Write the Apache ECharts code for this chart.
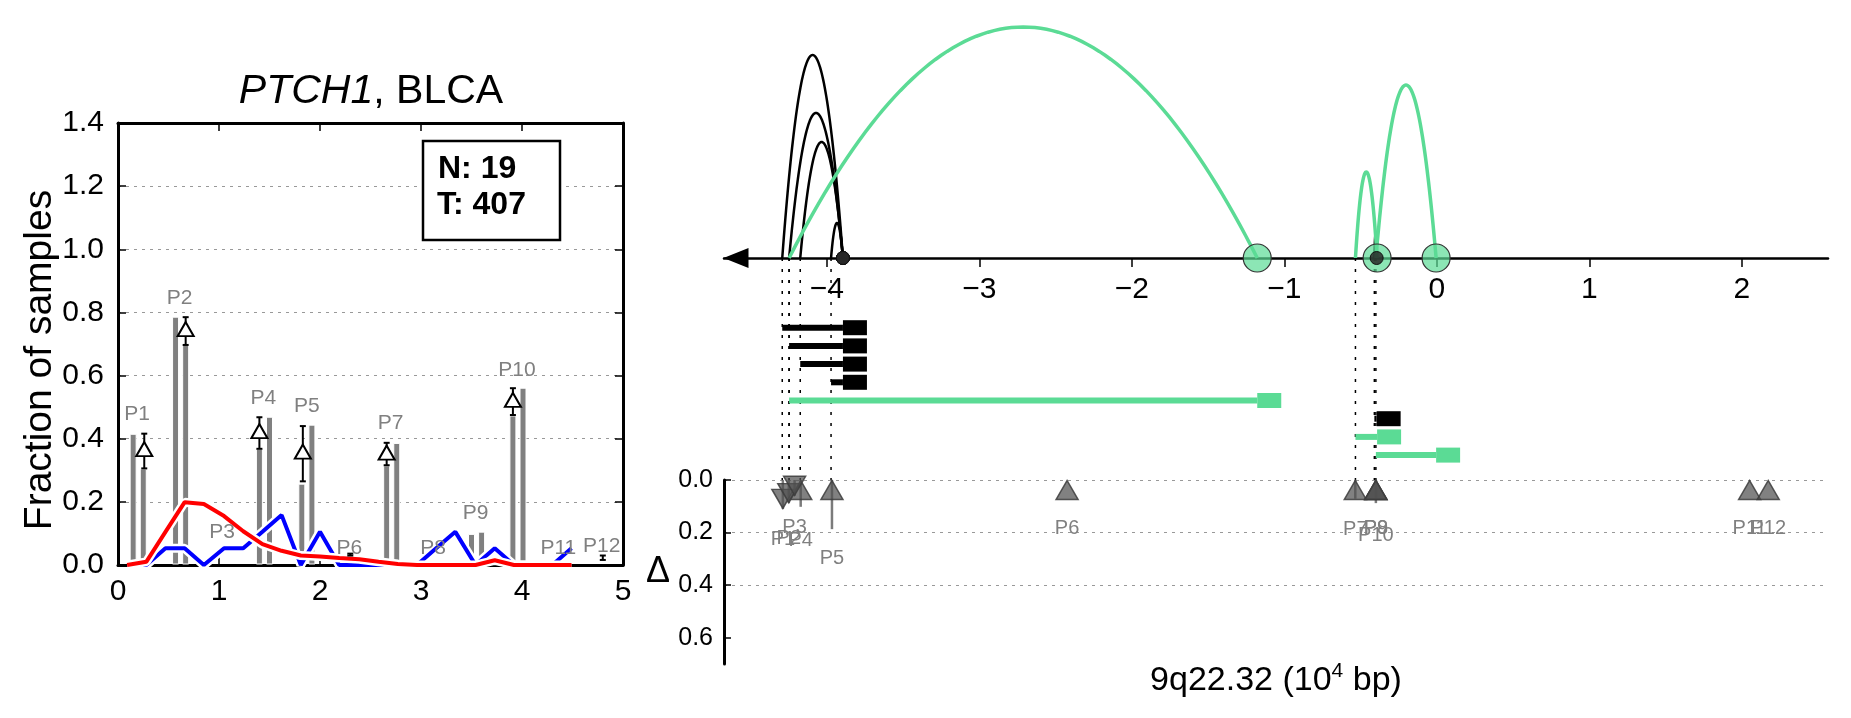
<!DOCTYPE html>
<html><head><meta charset="utf-8">
<script src="https://cdn.jsdelivr.net/npm/echarts@6/dist/echarts.min.js"></script>
<style>html,body{margin:0;padding:0;background:#fff}#c{width:1851px;height:718px}</style>
</head><body><div id="c"></div>
<script>
// ---------- Left panel data ----------
const peakNames = ['P1','P2','P3','P4','P5','P6','P7','P8','P9','P10','P11','P12'];
const barX1 = [0.15,0.57,0.99,1.40,1.82,2.24,2.66,3.08,3.50,3.91,4.33,4.75];
const barX2 = [0.25,0.67,1.09,1.50,1.92,2.34,2.76,3.18,3.60,4.01,4.43,4.85];
const barH1 = [0.414,0.785,0.000,0.366,0.256,0.000,0.314,0.000,0.097,0.472,0.000,0.000];
const barH2 = [0.304,0.697,0.000,0.468,0.443,0.000,0.385,0.000,0.104,0.560,0.000,0.000];
const peakLabelX = [0.19,0.61,1.03,1.44,1.87,2.29,2.70,3.12,3.54,3.95,4.36,4.79];
const peakLabelY = [0.478,0.845,0.105,0.529,0.503,0.054,0.448,0.054,0.164,0.618,0.054,0.058];

const deltaMarkX = [0.26,0.67,1.40,1.83,2.66,3.91];
const deltaMarkY = [0.367,0.747,0.424,0.359,0.356,0.523];
const errX    = [0.26,0.67,1.40,1.83,2.30,2.66,3.91,4.80];
const errLow  = [0.306,0.697,0.368,0.265,0.030,0.316,0.475,0.016];
const errHigh = [0.416,0.785,0.468,0.440,0.036,0.387,0.560,0.030];

const curveX      = [0.09,0.28,0.47,0.66,0.85,1.05,1.24,1.43,1.62,1.81,2.00,2.19,2.39,2.58,2.77,2.96,3.15,3.34,3.54,3.73,3.92,4.11,4.30,4.49];
const tumorCurve  = [0,0.010,0.105,0.199,0.193,0.155,0.107,0.066,0.045,0.030,0.027,0.022,0.018,0.010,0.003,0,0,0,0,0.015,0,0,0,0];
const normalCurve = [0,0,0.053,0.053,0,0.053,0.053,0.105,0.158,0,0.105,0,0,0,0,0,0.053,0.105,0,0.053,0,0,0,0.053];

const boxLines = ['N: 19','T: 407'];

// ---------- Right panel data ----------
const svStart   = [-4.293,-4.248,-4.175,-3.973,-4.248,-0.410,-0.534,-0.400];
const svEnd     = [-3.895,-3.895,-3.895,-3.895,-1.178,-0.395,-0.392,-0.005];
const svGroup   = ['black','black','black','black','green','black','green','green'];
const arcHeight = [203,145,116,35,231,23,86,173];
const genomeTicks = [-4,-3,-2,-1,0,1,2];

const deltaPos    = [-4.289,-4.250,-4.212,-4.172,-3.967,-2.425,-0.535,-0.400,-0.400,-0.400,2.051,2.173];
const deltaVal    = [-0.110,-0.088,-0.060,0.102,0.187,0.000,0.071,0.000,0.007,0.088,0.000,0.000];
const deltaLabelY = [0.225,0.222,0.180,0.230,0.300,0.183,0.190,0.183,0.183,0.210,0.183,0.183];

// ---------- styling ----------
const FONT = 'Liberation Sans';
const GREEN = '#5bdb95';
const GRIDX = {left:724, width:1104};
const XMIN = -4.675, XMAX = 2.565;

const chart = echarts.init(document.getElementById('c'), null, {renderer:'canvas'});

const barData = [];
peakNames.forEach((n,i)=>{ barData.push([barX1[i], barH1[i]]); barData.push([barX2[i], barH2[i]]); });

const hiddenX = (gi)=>({type:'value', gridIndex:gi, min:XMIN, max:XMAX, show:false});

const option = {
  animation:false,
  backgroundColor:'#fff',
  textStyle:{fontFamily:FONT},
  grid:[
    {left:118, top:123, width:505, height:442, outerBoundsMode:'none'},
    {left:GRIDX.left, top:10, width:GRIDX.width, height:248, outerBoundsMode:'none'},
    {left:GRIDX.left, top:318.6, width:GRIDX.width, height:145.6, outerBoundsMode:'none'},
    {left:GRIDX.left, top:258, width:GRIDX.width, height:222, outerBoundsMode:'none'},
    {left:GRIDX.left, top:480, width:GRIDX.width, height:184, outerBoundsMode:'none'}
  ],
  xAxis:[
    {type:'value', gridIndex:0, min:0, max:5, interval:1, position:'bottom',
     axisLine:{show:true, onZero:false, lineStyle:{color:'#000', width:3}},
     axisTick:{show:true, inside:true, length:8, lineStyle:{color:'#000', width:1.5}},
     axisLabel:{fontSize:30, color:'#000', margin:12, fontFamily:FONT},
     splitLine:{show:false}},
    {type:'value', gridIndex:0, min:0, max:5, interval:1, position:'top',
     axisLine:{show:true, onZero:false, lineStyle:{color:'#000', width:3}},
     axisTick:{show:true, inside:true, length:8, lineStyle:{color:'#000', width:1.5}},
     axisLabel:{show:false}, splitLine:{show:false}},
    {type:'value', gridIndex:1, min:XMIN, max:XMAX, position:'bottom',
     axisLine:{show:true, onZero:false, symbol:['triangle','none'], symbolSize:[20,25], symbolOffset:[12,0],
               lineStyle:{color:'#000', width:2.5}},
     axisTick:{show:true, inside:false, length:9, customValues:genomeTicks, lineStyle:{color:'#000', width:1.5}},
     axisLabel:{fontSize:30, color:'#000', margin:17, fontFamily:FONT, customValues:genomeTicks,
                formatter:(v)=> v<0 ? '\u2212'+Math.abs(v) : String(v)},
     splitLine:{show:false}},
    hiddenX(2), hiddenX(3),
    {type:'value', gridIndex:4, min:XMIN, max:XMAX, show:true,
     axisLine:{show:false}, axisTick:{show:false}, axisLabel:{show:false}, splitLine:{show:false}}
  ],
  yAxis:[
    {type:'value', gridIndex:0, min:0, max:1.4, interval:0.2, position:'left',
     axisLine:{show:true, onZero:false, lineStyle:{color:'#000', width:3}},
     axisTick:{show:true, inside:true, length:8, lineStyle:{color:'#000', width:1.5}},
     axisLabel:{fontSize:30, color:'#000', margin:14, fontFamily:FONT, formatter:(v)=>v.toFixed(1)},
     splitLine:{show:true, lineStyle:{color:'#999', width:1, type:[3,5]}}},
    {type:'value', gridIndex:0, min:0, max:1.4, interval:0.2, position:'right',
     axisLine:{show:true, onZero:false, lineStyle:{color:'#000', width:3}},
     axisTick:{show:true, inside:true, length:8, lineStyle:{color:'#000', width:1.5}},
     axisLabel:{show:false}, splitLine:{show:false}},
    {type:'value', gridIndex:1, min:0, max:248, show:false},
    {type:'category', gridIndex:2, data:['0','1','2','3','4','5','6','7'], inverse:true, show:false},
    {type:'value', gridIndex:3, min:0, max:1, show:false},
    {type:'value', gridIndex:4, min:0, max:0.7, interval:0.2, inverse:true, position:'left',
     axisLine:{show:true, onZero:false, lineStyle:{color:'#000', width:3}},
     axisTick:{show:true, inside:true, length:7, customValues:[0,0.2,0.4,0.6], lineStyle:{color:'#000', width:1.5}},
     axisLabel:{fontSize:25, color:'#000', margin:11, fontFamily:FONT, customValues:[0,0.2,0.4,0.6], formatter:(v)=>Number(v).toFixed(1)},
     splitLine:{show:true, showMaxLine:false, lineStyle:{color:'#999', width:1, type:[3,5]}}}
  ],
  graphic:[
    {type:'text', x:371, y:92, z:10, style:{text:'{i|PTCH1}, BLCA', font:'41px '+FONT, fill:'#000', align:'center', verticalAlign:'middle',
      rich:{i:{fontStyle:'italic', fontSize:41, fontFamily:FONT}}}},
    {type:'text', x:40, y:360, rotation:Math.PI/2, z:10, style:{text:'Fraction of samples', font:'39px '+FONT, fill:'#000', align:'center', verticalAlign:'middle'}},
    {type:'rect', x:423, y:141, z:10, shape:{width:137, height:99}, style:{fill:'#fff', stroke:'#000', lineWidth:2.5}},
    {type:'text', x:438, y:169, z:11, style:{text:boxLines[0], font:'bold 32px '+FONT, fill:'#000', align:'left', verticalAlign:'middle'}},
    {type:'text', x:437, y:205, z:11, style:{text:boxLines[1], font:'bold 32px '+FONT, fill:'#000', align:'left', verticalAlign:'middle'}},
    {type:'text', x:658, y:572, z:10, style:{text:'\u0394', font:'36px '+FONT, fill:'#000', align:'center', verticalAlign:'middle'}},
    {type:'text', x:1276, y:681, z:10, style:{text:'{a|9q22.32 (10}{s|4}{a| bp)}', fill:'#000', align:'center', verticalAlign:'middle',
      rich:{a:{fontSize:34, fontFamily:FONT, lineHeight:40, verticalAlign:'middle'}, s:{fontSize:21, fontFamily:FONT, lineHeight:40, verticalAlign:'top'}}}}
  ],
  series:[
    // gray bars
    {type:'custom', xAxisIndex:0, yAxisIndex:0, z:2, data:barData, clip:true,
     renderItem:(p, api)=>{ const x=api.value(0), h=api.value(1); if(!(h>0)) return null;
       const a=api.coord([x,0]), b=api.coord([x,h]); const w=6;
       return {type:'rect', shape:{x:a[0]-w/2, y:b[1], width:w, height:a[1]-b[1]-1}, style:{fill:'#808080', stroke:'#fff', lineWidth:1}}; }},
    // blue (white outline) - under red
    {type:'line', xAxisIndex:0, yAxisIndex:0, z:3, showSymbol:false, symbol:'none', clip:true,
     data:curveX.map((x,i)=>[x,normalCurve[i]]), lineStyle:{color:'#fff', width:9}},
    {type:'line', xAxisIndex:0, yAxisIndex:0, z:3, showSymbol:false, symbol:'none', clip:true,
     data:curveX.map((x,i)=>[x,normalCurve[i]]), lineStyle:{color:'#0000ff', width:4}},
    // red (white outline)
    {type:'line', xAxisIndex:0, yAxisIndex:0, z:4, showSymbol:false, symbol:'none', clip:true,
     data:curveX.map((x,i)=>[x,tumorCurve[i]]), lineStyle:{color:'#fff', width:9}},
    {type:'line', xAxisIndex:0, yAxisIndex:0, z:4, showSymbol:false, symbol:'none', clip:true,
     data:curveX.map((x,i)=>[x,tumorCurve[i]]), lineStyle:{color:'#ff0000', width:4}},
    // error bars
    {type:'custom', xAxisIndex:0, yAxisIndex:0, z:5, data:errX.map((x,i)=>[x,errLow[i],errHigh[i]]),
     renderItem:(p, api)=>{ const x=api.value(0); const a=api.coord([x,api.value(1)]), b=api.coord([x,api.value(2)]);
       const c=3; const st={stroke:'#000', lineWidth:2};
       return {type:'group', children:[
         {type:'line', shape:{x1:a[0],y1:a[1],x2:b[0],y2:b[1]}, style:st},
         {type:'line', shape:{x1:a[0]-c,y1:a[1],x2:a[0]+c,y2:a[1]}, style:st},
         {type:'line', shape:{x1:b[0]-c,y1:b[1],x2:b[0]+c,y2:b[1]}, style:st}]}; }},
    // delta triangles
    {type:'scatter', xAxisIndex:0, yAxisIndex:0, z:6, symbol:'triangle', symbolSize:[16,14],
     data:deltaMarkX.map((x,i)=>[x,deltaMarkY[i]]), itemStyle:{color:'#fff', borderColor:'#000', borderWidth:2, opacity:1}},
    // peak labels
    {type:'custom', xAxisIndex:0, yAxisIndex:0, z:7, data:peakNames.map((n,i)=>[peakLabelX[i],peakLabelY[i],i]),
     renderItem:(p, api)=>{ const a=api.coord([api.value(0),api.value(1)]);
       return {type:'text', x:a[0], y:a[1], style:{text:peakNames[api.value(2)], font:'21px '+FONT, fill:'#808080', align:'center', verticalAlign:'middle'}}; }},

    // ---- right: arcs ----
    {type:'custom', xAxisIndex:2, yAxisIndex:2, z:3,
     data:svStart.map((s,i)=>[s, svEnd[i], arcHeight[i], svGroup[i]==='green'?1:0]),
     renderItem:(p, api)=>{ const s=api.value(0), e=api.value(1), h=api.value(2), g=api.value(3);
       const pts=[]; for(let k=0;k<=80;k++){ const t=k/80; pts.push(api.coord([s+(e-s)*t, 4*h*t*(1-t)])); }
       return {type:'polyline', z2:g?2:1, shape:{points:pts}, style:{stroke:g?GREEN:'#000', lineWidth:g?3.5:2.5, fill:null}}; }},
    // green end circles
    {type:'scatter', xAxisIndex:2, yAxisIndex:2, z:5, clip:false, symbolSize:28,
     data:svEnd.filter((e,i)=>svGroup[i]==='green').map(e=>[e,0]),
     itemStyle:{color:'rgba(91,219,149,0.7)', borderColor:'#333', borderWidth:1.2, opacity:1}},
    // black end dots
    {type:'scatter', xAxisIndex:2, yAxisIndex:2, z:6, clip:false, symbolSize:13,
     data:svEnd.filter((e,i)=>svGroup[i]==='black').map(e=>[e,0]),
     itemStyle:{color:'rgba(40,40,40,0.85)', borderColor:'#111', borderWidth:1, opacity:1}},
    // segments rows
    {type:'custom', xAxisIndex:3, yAxisIndex:3, z:3,
     data:svStart.map((s,i)=>[s, svEnd[i], i, svGroup[i]==='green'?1:0]),
     renderItem:(p, api)=>{ const s=api.value(0), e=api.value(1), r=api.value(2), g=api.value(3);
       const a=api.coord([s,r]), b=api.coord([e,r]); const col=g?GREEN:'#000';
       return {type:'group', children:[
         {type:'rect', shape:{x:a[0], y:a[1]-3, width:b[0]-a[0], height:6}, style:{fill:col}},
         {type:'rect', shape:{x:b[0], y:b[1]-7.5, width:24, height:15}, style:{fill:col}}]}; }},
    // dotted guide lines
    {type:'custom', xAxisIndex:4, yAxisIndex:4, z:2, data:svStart.map(s=>[s]),
     renderItem:(p, api)=>{ const x=api.value(0); const a=api.coord([x,1]), b=api.coord([x,0]);
       return {type:'line', shape:{x1:a[0],y1:a[1],x2:b[0],y2:b[1]}, style:{stroke:'#000', lineWidth:1.5, lineDash:[3,8]}}; }},
    // delta stems
    {type:'custom', xAxisIndex:5, yAxisIndex:5, z:3, data:deltaPos.map((x,i)=>[x,Math.abs(deltaVal[i])]),
     renderItem:(p, api)=>{ const x=api.value(0), d=api.value(1); if(!(d>0)) return null;
       const a=api.coord([x,0]), b=api.coord([x,d]);
       return {type:'line', shape:{x1:a[0],y1:a[1],x2:b[0],y2:b[1]}, style:{stroke:'rgba(100,100,100,0.85)', lineWidth:2.5}}; }},
    // up triangles
    {type:'scatter', xAxisIndex:5, yAxisIndex:5, z:4, clip:false, symbol:'triangle', symbolSize:[22,19], symbolOffset:[0,10],
     data:deltaPos.map((x,i)=>[x,0,deltaVal[i]]).filter(d=>d[2]>=0).map(d=>[d[0],d[1]]),
     itemStyle:{color:'rgba(80,80,80,0.72)', borderColor:'rgba(60,60,60,0.85)', borderWidth:1.5, opacity:1}},
    // down triangles
    {type:'scatter', xAxisIndex:5, yAxisIndex:5, z:4, clip:false, symbol:'triangle', symbolRotate:180, symbolSize:[22,19], symbolOffset:[0,-10],
     data:deltaPos.map((x,i)=>[x,Math.abs(deltaVal[i]),deltaVal[i]]).filter(d=>d[2]<0).map(d=>[d[0],d[1]]),
     itemStyle:{color:'rgba(80,80,80,0.72)', borderColor:'rgba(60,60,60,0.85)', borderWidth:1.5, opacity:1}},
    // delta labels
    {type:'custom', xAxisIndex:5, yAxisIndex:5, z:5, data:deltaPos.map((x,i)=>[x,deltaLabelY[i],i]),
     renderItem:(p, api)=>{ const a=api.coord([api.value(0),api.value(1)]);
       return {type:'text', x:a[0], y:a[1], style:{text:peakNames[api.value(2)], font:'20px '+FONT, fill:'#808080', align:'center', verticalAlign:'middle'}}; }}
  ]
};
chart.setOption(option);
</script>
</body></html>
